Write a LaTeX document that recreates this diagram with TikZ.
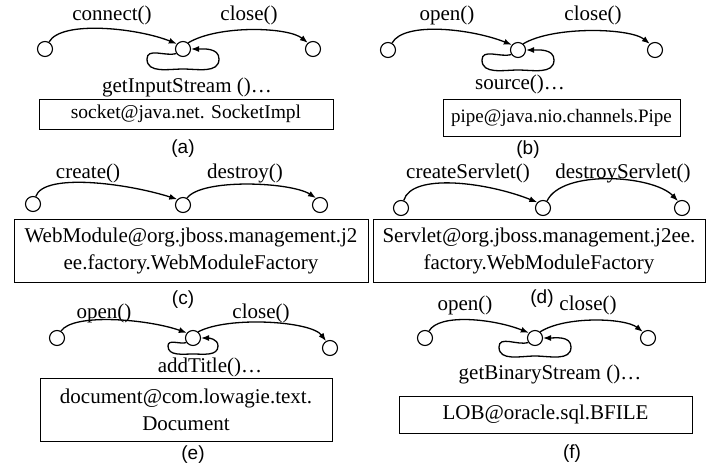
\documentclass[tikz,border=0pt]{standalone}
\usepackage{fontspec}
\setmainfont{Liberation Serif}
\newfontfamily\labfont{Liberation Sans}
\usetikzlibrary{arrows.meta,calc}
\begin{document}
\begin{tikzpicture}[x=1pt,y=1pt,
  st/.style={circle,draw,line width=1.1pt,minimum size=15pt,inner sep=0pt},
  tr/.style={line width=1.3pt,-{Latex[length=8pt,width=6pt]}},
  lbl/.style={font=\fontsize{21}{25}\selectfont,inner sep=0pt},
  box/.style={draw,line width=1pt,inner sep=0pt,align=center,font=\fontsize{21}{27}\selectfont},
  sublbl/.style={font=\labfont\fontsize{19}{22}\selectfont,inner sep=0pt}]
\useasboundingbox (0,0) rectangle (710,-469);

% ---------- (a)
\node[st] (a1) at (45,-49) {};
\node[st] (a2) at (183,-49) {};
\node[st] (a3) at (313,-49) {};
\draw[tr] (a1.60) .. controls +(12,22) and +(-40,16) .. (a2.140);
\draw[tr] (a2.50) .. controls +(30,18) and +(-20,16) .. (a3.130);
\draw[tr] (a2.215) to[out=195,in=90] ($(a2)+(-36,-10)$) to[out=-90,in=180] ($(a2)+(0,-20)$) to[out=0,in=-90] ($(a2)+(36,-10)$) to[out=90,in=0] (a2.east);
\node[lbl] (a4) at (112,-15) {connect()};
\node[lbl] (a5) at (249,-15) {close()};
\node[lbl] (a6) at (187,-87) {getInputStream ()…};
\node[box,minimum width=294pt,minimum height=30pt,font=\fontsize{19.5}{23}\selectfont] (a7) at (186,-114) {socket@java.net. SocketImpl};
\node[sublbl] (a8) at (183,-149) {(a)};

% ---------- (b)
\node[st] (b1) at (388,-50) {};
\node[st] (b2) at (518,-50) {};
\node[st] (b3) at (655,-50) {};
\draw[tr] (b1.60) .. controls +(12,22) and +(-40,16) .. (b2.140);
\draw[tr] (b2.50) .. controls +(30,18) and +(-20,16) .. (b3.130);
\draw[tr] (b2.215) to[out=195,in=90] ($(b2)+(-36,-10)$) to[out=-90,in=180] ($(b2)+(0,-20)$) to[out=0,in=-90] ($(b2)+(36,-10)$) to[out=90,in=0] (b2.east);
\node[lbl] (b4) at (447,-15) {open()};
\node[lbl] (b5) at (593,-15) {close()};
\node[lbl] (b6) at (520,-84) {source()…};
\node[box,minimum width=237pt,minimum height=37pt,font=\fontsize{19}{23}\selectfont] (b7) at (561.5,-117.5) {pipe@java.nio.channels.Pipe};
\node[sublbl] (b8) at (528,-150) {(b)};

% ---------- (c)
\node[st] (c1) at (33,-204) {};
\node[st] (c2) at (183,-205) {};
\node[st] (c3) at (320,-205) {};
\draw[tr] (c1.70) .. controls +(8,24) and +(-50,16) .. (c2.135);
\draw[tr] (c2.60) .. controls +(15,20) and +(-25,16) .. (c3.120);
\node[lbl] (c4) at (88,-173) {create()};
\node[lbl] (c5) at (245,-173) {destroy()};
\node[box,minimum width=354pt,minimum height=63pt] (c7) at (191,-250.5) {WebModule@org.jboss.management.j2\\ee.factory.WebModuleFactory};
\node[sublbl] (c8) at (183,-300) {(c)};

% ---------- (d)
\node[st] (d1) at (401,-208) {};
\node[st] (d2) at (543,-208) {};
\node[st] (d3) at (682,-208) {};
\draw[tr] (d1.70) .. controls +(8,28) and +(-50,20) .. (d2.135);
\draw[tr] (d2.60) .. controls +(15,32) and +(-25,26) .. (d3.120);
\node[lbl] (d4) at (468,-173) {createServlet()};
\node[lbl] (d5) at (623,-173) {destroyServlet()};
\node[box,minimum width=332pt,minimum height=63pt] (d7) at (539,-250.5) {Servlet@org.jboss.management.j2ee.\\factory.WebModuleFactory};
\node[sublbl] (d8) at (542,-299) {(d)};

% ---------- (e)
\node[st] (e1) at (57,-338) {};
\node[st] (e2) at (193,-338) {};
\node[st] (e3) at (330,-348) {};
\draw[tr] (e1.60) .. controls +(12,18) and +(-40,14) .. (e2.140);
\draw[tr] (e2.50) .. controls +(30,16) and +(-15,20) .. (e3.120);
\draw[tr] (e2.215) to[out=195,in=90] ($(e2)+(-25,-8)$) to[out=-90,in=180] ($(e2)+(0,-16)$) to[out=0,in=-90] ($(e2)+(25,-8)$) to[out=90,in=0] (e2.east);
\node[lbl] (e4) at (104,-313) {open()};
\node[lbl] (e5) at (261,-313) {close()};
\node[lbl] (e6) at (210,-367) {addTitle()…};
\node[box,minimum width=292pt,minimum height=63pt] (e7) at (186,-409.5) {document@com.lowagie.text.\\Document};
\node[sublbl] (e8) at (193,-455) {(e)};

% ---------- (f)
\node[st] (f1) at (425,-338) {};
\node[st] (f2) at (535,-338) {};
\node[st] (f3) at (648,-338) {};
\draw[tr] (f1.60) .. controls +(10,18) and +(-35,14) .. (f2.140);
\draw[tr] (f2.50) .. controls +(25,16) and +(-18,14) .. (f3.130);
\draw[tr] (f2.215) to[out=195,in=90] ($(f2)+(-36,-9)$) to[out=-90,in=180] ($(f2)+(0,-18)$) to[out=0,in=-90] ($(f2)+(36,-9)$) to[out=90,in=0] (f2.east);
\node[lbl] (f4) at (465,-305) {open()};
\node[lbl] (f5) at (588,-305) {close()};
\node[lbl] (f6) at (550,-374) {getBinaryStream ()…};
\node[box,minimum width=293pt,minimum height=37pt] (f7) at (545.5,-414.5) {LOB@oracle.sql.BFILE};
\node[sublbl] (f8) at (572,-454) {(f)};
\end{tikzpicture}
\end{document}
